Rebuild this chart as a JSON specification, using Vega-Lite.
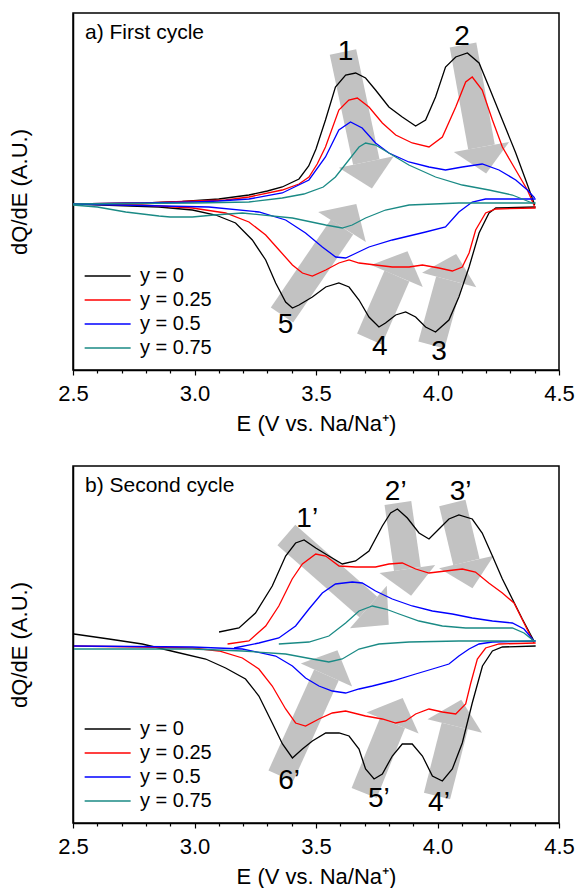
{
"$schema": "https://vega.github.io/schema/vega-lite/v6.json",
"padding": {"left": 7, "top": 12, "right": 0, "bottom": 0},
"spacing": 30,
"config": {
  "font": "Liberation Sans",
  "view": {"stroke": "#000000", "strokeWidth": 1.5},
  "axis": {"grid": false, "domainColor": "#000000", "tickColor": "#000000", "labelColor": "#000000", "titleColor": "#000000", "labelFont": "Liberation Sans", "titleFont": "Liberation Sans", "titleFontWeight": "normal"},
  "title": {"font": "Liberation Sans", "fontWeight": "normal", "color": "#000000"}
},
"resolve": {"scale": {"y": "independent", "color": "independent"}, "legend": {"color": "independent"}},
"datasets": {
"a_arrows": [
 {"E1": 3.611, "v1": 152, "E": 3.707, "v": 42, "heading": 168},
 {"E1": 4.105, "v1": 159, "E": 4.181, "v": 57, "heading": 170},
 {"E1": 3.36, "v1": -111, "E": 3.607, "v": -23, "heading": 32},
 {"E1": 3.72, "v1": -135, "E": 3.833, "v": -72, "heading": 23},
 {"E1": 3.975, "v1": -141, "E": 4.048, "v": -76, "heading": 15}
],
"a_labels": [
 {"t": "1", "E": 3.622, "v": 152},
 {"t": "2", "E": 4.101, "v": 167},
 {"t": "5", "E": 3.375, "v": -121},
 {"t": "4", "E": 3.762, "v": -143},
 {"t": "3", "E": 4.006, "v": -148}
],
"b_arrows": [
 {"E1": 3.378, "v1": 109, "E": 3.7155, "v": 37, "heading": 131},
 {"E1": 3.837, "v1": 141, "E": 3.876, "v": 75, "heading": 172},
 {"E1": 4.061, "v1": 141, "E": 4.119, "v": 82, "heading": 167},
 {"E1": 3.355, "v1": -132, "E": 3.543, "v": -31, "heading": 24},
 {"E1": 3.698, "v1": -149, "E": 3.815, "v": -79, "heading": 22},
 {"E1": 3.998, "v1": -152, "E": 4.071, "v": -82, "heading": 14}
],
"b_labels": [
 {"t": "1’", "E": 3.464, "v": 125},
 {"t": "2’", "E": 3.828, "v": 152},
 {"t": "3’", "E": 4.095, "v": 152},
 {"t": "6’", "E": 3.389, "v": -137},
 {"t": "5’", "E": 3.759, "v": -155},
 {"t": "4’", "E": 4.006, "v": -159}
],
"a_curves": [
 {"s":"y = 0","b":"c","E":2.5,"v":0},{"s":"y = 0","b":"c","E":2.8,"v":1},{"s":"y = 0","b":"c","E":2.95,"v":2.5},{"s":"y = 0","b":"c","E":3.1,"v":5},{"s":"y = 0","b":"c","E":3.224,"v":9},{"s":"y = 0","b":"c","E":3.3,"v":13},{"s":"y = 0","b":"c","E":3.361,"v":17},{"s":"y = 0","b":"c","E":3.43,"v":25},{"s":"y = 0","b":"c","E":3.47,"v":38},{"s":"y = 0","b":"c","E":3.5,"v":55},{"s":"y = 0","b":"c","E":3.539,"v":84},{"s":"y = 0","b":"c","E":3.58,"v":117},{"s":"y = 0","b":"c","E":3.622,"v":129},{"s":"y = 0","b":"c","E":3.663,"v":131},{"s":"y = 0","b":"c","E":3.704,"v":126},{"s":"y = 0","b":"c","E":3.745,"v":114},{"s":"y = 0","b":"c","E":3.8,"v":97},{"s":"y = 0","b":"c","E":3.855,"v":87},{"s":"y = 0","b":"c","E":3.91,"v":78},{"s":"y = 0","b":"c","E":3.951,"v":84},{"s":"y = 0","b":"c","E":3.992,"v":107},{"s":"y = 0","b":"c","E":4.033,"v":137},{"s":"y = 0","b":"c","E":4.075,"v":147},{"s":"y = 0","b":"c","E":4.123,"v":151},{"s":"y = 0","b":"c","E":4.171,"v":141},{"s":"y = 0","b":"c","E":4.212,"v":117},{"s":"y = 0","b":"c","E":4.267,"v":84},{"s":"y = 0","b":"c","E":4.322,"v":51},{"s":"y = 0","b":"c","E":4.363,"v":24},{"s":"y = 0","b":"c","E":4.4,"v":-1},
 {"s":"y = 0","b":"d","E":4.404,"v":-3},{"s":"y = 0","b":"d","E":4.24,"v":-4},{"s":"y = 0","b":"d","E":4.212,"v":-9},{"s":"y = 0","b":"d","E":4.171,"v":-29},{"s":"y = 0","b":"d","E":4.13,"v":-63},{"s":"y = 0","b":"d","E":4.088,"v":-93},{"s":"y = 0","b":"d","E":4.047,"v":-116},{"s":"y = 0","b":"d","E":3.992,"v":-128},{"s":"y = 0","b":"d","E":3.951,"v":-123},{"s":"y = 0","b":"d","E":3.91,"v":-113},{"s":"y = 0","b":"d","E":3.869,"v":-108},{"s":"y = 0","b":"d","E":3.828,"v":-111},{"s":"y = 0","b":"d","E":3.786,"v":-119},{"s":"y = 0","b":"d","E":3.759,"v":-123},{"s":"y = 0","b":"d","E":3.718,"v":-113},{"s":"y = 0","b":"d","E":3.677,"v":-96},{"s":"y = 0","b":"d","E":3.636,"v":-83},{"s":"y = 0","b":"d","E":3.594,"v":-79},{"s":"y = 0","b":"d","E":3.54,"v":-83},{"s":"y = 0","b":"d","E":3.485,"v":-93},{"s":"y = 0","b":"d","E":3.43,"v":-101},{"s":"y = 0","b":"d","E":3.403,"v":-104},{"s":"y = 0","b":"d","E":3.375,"v":-98},{"s":"y = 0","b":"d","E":3.334,"v":-79},{"s":"y = 0","b":"d","E":3.293,"v":-56},{"s":"y = 0","b":"d","E":3.238,"v":-36},{"s":"y = 0","b":"d","E":3.169,"v":-19},{"s":"y = 0","b":"d","E":3.087,"v":-11},{"s":"y = 0","b":"d","E":2.991,"v":-6},{"s":"y = 0","b":"d","E":2.854,"v":-3},{"s":"y = 0","b":"d","E":2.5,"v":0},
 {"s":"y = 0.25","b":"c","E":2.5,"v":0},{"s":"y = 0.25","b":"c","E":2.8,"v":1},{"s":"y = 0.25","b":"c","E":3.0,"v":3},{"s":"y = 0.25","b":"c","E":3.128,"v":4},{"s":"y = 0.25","b":"c","E":3.224,"v":7},{"s":"y = 0.25","b":"c","E":3.361,"v":14},{"s":"y = 0.25","b":"c","E":3.43,"v":20},{"s":"y = 0.25","b":"c","E":3.471,"v":27},{"s":"y = 0.25","b":"c","E":3.505,"v":40},{"s":"y = 0.25","b":"c","E":3.539,"v":57},{"s":"y = 0.25","b":"c","E":3.594,"v":94},{"s":"y = 0.25","b":"c","E":3.635,"v":104},{"s":"y = 0.25","b":"c","E":3.67,"v":106},{"s":"y = 0.25","b":"c","E":3.718,"v":97},{"s":"y = 0.25","b":"c","E":3.773,"v":81},{"s":"y = 0.25","b":"c","E":3.828,"v":69},{"s":"y = 0.25","b":"c","E":3.896,"v":61},{"s":"y = 0.25","b":"c","E":3.965,"v":57},{"s":"y = 0.25","b":"c","E":4.02,"v":67},{"s":"y = 0.25","b":"c","E":4.075,"v":97},{"s":"y = 0.25","b":"c","E":4.116,"v":122},{"s":"y = 0.25","b":"c","E":4.143,"v":127},{"s":"y = 0.25","b":"c","E":4.184,"v":114},{"s":"y = 0.25","b":"c","E":4.226,"v":84},{"s":"y = 0.25","b":"c","E":4.267,"v":57},{"s":"y = 0.25","b":"c","E":4.322,"v":34},{"s":"y = 0.25","b":"c","E":4.37,"v":14},{"s":"y = 0.25","b":"c","E":4.4,"v":-3},
 {"s":"y = 0.25","b":"d","E":4.404,"v":-4},{"s":"y = 0.25","b":"d","E":4.24,"v":-5},{"s":"y = 0.25","b":"d","E":4.198,"v":-9},{"s":"y = 0.25","b":"d","E":4.157,"v":-26},{"s":"y = 0.25","b":"d","E":4.13,"v":-49},{"s":"y = 0.25","b":"d","E":4.102,"v":-63},{"s":"y = 0.25","b":"d","E":4.061,"v":-67},{"s":"y = 0.25","b":"d","E":4.006,"v":-64},{"s":"y = 0.25","b":"d","E":3.938,"v":-61},{"s":"y = 0.25","b":"d","E":3.883,"v":-63},{"s":"y = 0.25","b":"d","E":3.814,"v":-63},{"s":"y = 0.25","b":"d","E":3.745,"v":-61},{"s":"y = 0.25","b":"d","E":3.677,"v":-59},{"s":"y = 0.25","b":"d","E":3.636,"v":-56},{"s":"y = 0.25","b":"d","E":3.594,"v":-59},{"s":"y = 0.25","b":"d","E":3.54,"v":-66},{"s":"y = 0.25","b":"d","E":3.485,"v":-72},{"s":"y = 0.25","b":"d","E":3.444,"v":-69},{"s":"y = 0.25","b":"d","E":3.403,"v":-61},{"s":"y = 0.25","b":"d","E":3.348,"v":-46},{"s":"y = 0.25","b":"d","E":3.293,"v":-31},{"s":"y = 0.25","b":"d","E":3.224,"v":-18},{"s":"y = 0.25","b":"d","E":3.128,"v":-9},{"s":"y = 0.25","b":"d","E":2.991,"v":-4},{"s":"y = 0.25","b":"d","E":2.785,"v":-1},{"s":"y = 0.25","b":"d","E":2.5,"v":0},
 {"s":"y = 0.5","b":"c","E":2.5,"v":0},{"s":"y = 0.5","b":"c","E":2.8,"v":1},{"s":"y = 0.5","b":"c","E":3.0,"v":2},{"s":"y = 0.5","b":"c","E":3.1,"v":3},{"s":"y = 0.5","b":"c","E":3.224,"v":5},{"s":"y = 0.5","b":"c","E":3.361,"v":11},{"s":"y = 0.5","b":"c","E":3.471,"v":24},{"s":"y = 0.5","b":"c","E":3.539,"v":47},{"s":"y = 0.5","b":"c","E":3.594,"v":74},{"s":"y = 0.5","b":"c","E":3.642,"v":82},{"s":"y = 0.5","b":"c","E":3.69,"v":76},{"s":"y = 0.5","b":"c","E":3.745,"v":61},{"s":"y = 0.5","b":"c","E":3.8,"v":51},{"s":"y = 0.5","b":"c","E":3.882,"v":42},{"s":"y = 0.5","b":"c","E":3.965,"v":37},{"s":"y = 0.5","b":"c","E":4.033,"v":34},{"s":"y = 0.5","b":"c","E":4.102,"v":37},{"s":"y = 0.5","b":"c","E":4.184,"v":40},{"s":"y = 0.5","b":"c","E":4.253,"v":34},{"s":"y = 0.5","b":"c","E":4.322,"v":24},{"s":"y = 0.5","b":"c","E":4.37,"v":14},{"s":"y = 0.5","b":"c","E":4.4,"v":6},
 {"s":"y = 0.5","b":"d","E":4.404,"v":5},{"s":"y = 0.5","b":"d","E":4.198,"v":5},{"s":"y = 0.5","b":"d","E":4.143,"v":2},{"s":"y = 0.5","b":"d","E":4.088,"v":-8},{"s":"y = 0.5","b":"d","E":4.033,"v":-23},{"s":"y = 0.5","b":"d","E":3.951,"v":-28},{"s":"y = 0.5","b":"d","E":3.814,"v":-36},{"s":"y = 0.5","b":"d","E":3.718,"v":-43},{"s":"y = 0.5","b":"d","E":3.649,"v":-51},{"s":"y = 0.5","b":"d","E":3.622,"v":-54},{"s":"y = 0.5","b":"d","E":3.581,"v":-53},{"s":"y = 0.5","b":"d","E":3.526,"v":-43},{"s":"y = 0.5","b":"d","E":3.457,"v":-29},{"s":"y = 0.5","b":"d","E":3.375,"v":-16},{"s":"y = 0.5","b":"d","E":3.265,"v":-8},{"s":"y = 0.5","b":"d","E":3.059,"v":-3},{"s":"y = 0.5","b":"d","E":2.5,"v":0},
 {"s":"y = 0.75","b":"c","E":2.5,"v":0},{"s":"y = 0.75","b":"c","E":3.0,"v":1},{"s":"y = 0.75","b":"c","E":3.224,"v":2},{"s":"y = 0.75","b":"c","E":3.361,"v":6},{"s":"y = 0.75","b":"c","E":3.45,"v":10},{"s":"y = 0.75","b":"c","E":3.53,"v":17},{"s":"y = 0.75","b":"c","E":3.58,"v":27},{"s":"y = 0.75","b":"c","E":3.635,"v":44},{"s":"y = 0.75","b":"c","E":3.677,"v":57},{"s":"y = 0.75","b":"c","E":3.704,"v":61},{"s":"y = 0.75","b":"c","E":3.745,"v":59},{"s":"y = 0.75","b":"c","E":3.8,"v":51},{"s":"y = 0.75","b":"c","E":3.882,"v":39},{"s":"y = 0.75","b":"c","E":3.992,"v":27},{"s":"y = 0.75","b":"c","E":4.102,"v":19},{"s":"y = 0.75","b":"c","E":4.212,"v":14},{"s":"y = 0.75","b":"c","E":4.308,"v":9},{"s":"y = 0.75","b":"c","E":4.39,"v":1},
 {"s":"y = 0.75","b":"d","E":4.404,"v":1},{"s":"y = 0.75","b":"d","E":4.088,"v":1},{"s":"y = 0.75","b":"d","E":3.883,"v":-1},{"s":"y = 0.75","b":"d","E":3.786,"v":-6},{"s":"y = 0.75","b":"d","E":3.704,"v":-14},{"s":"y = 0.75","b":"d","E":3.649,"v":-21},{"s":"y = 0.75","b":"d","E":3.608,"v":-24},{"s":"y = 0.75","b":"d","E":3.54,"v":-21},{"s":"y = 0.75","b":"d","E":3.403,"v":-14},{"s":"y = 0.75","b":"d","E":3.197,"v":-9},{"s":"y = 0.75","b":"d","E":3.08,"v":-11},{"s":"y = 0.75","b":"d","E":2.991,"v":-13},{"s":"y = 0.75","b":"d","E":2.9,"v":-13},{"s":"y = 0.75","b":"d","E":2.854,"v":-12},{"s":"y = 0.75","b":"d","E":2.717,"v":-8},{"s":"y = 0.75","b":"d","E":2.6,"v":-3},{"s":"y = 0.75","b":"d","E":2.5,"v":-1}
],
"b_curves": [
 {"s":"y = 0","b":"c","E":3.101,"v":12},{"s":"y = 0","b":"c","E":3.183,"v":16},{"s":"y = 0","b":"c","E":3.251,"v":31},{"s":"y = 0","b":"c","E":3.32,"v":58},{"s":"y = 0","b":"c","E":3.375,"v":88},{"s":"y = 0","b":"c","E":3.416,"v":101},{"s":"y = 0","b":"c","E":3.451,"v":104},{"s":"y = 0","b":"c","E":3.499,"v":96},{"s":"y = 0","b":"c","E":3.553,"v":88},{"s":"y = 0","b":"c","E":3.608,"v":80},{"s":"y = 0","b":"c","E":3.663,"v":83},{"s":"y = 0","b":"c","E":3.718,"v":93},{"s":"y = 0","b":"c","E":3.773,"v":118},{"s":"y = 0","b":"c","E":3.807,"v":131},{"s":"y = 0","b":"c","E":3.835,"v":135},{"s":"y = 0","b":"c","E":3.876,"v":126},{"s":"y = 0","b":"c","E":3.924,"v":111},{"s":"y = 0","b":"c","E":3.965,"v":105},{"s":"y = 0","b":"c","E":4.006,"v":115},{"s":"y = 0","b":"c","E":4.047,"v":125},{"s":"y = 0","b":"c","E":4.088,"v":129},{"s":"y = 0","b":"c","E":4.143,"v":125},{"s":"y = 0","b":"c","E":4.184,"v":111},{"s":"y = 0","b":"c","E":4.226,"v":88},{"s":"y = 0","b":"c","E":4.267,"v":65},{"s":"y = 0","b":"c","E":4.308,"v":45},{"s":"y = 0","b":"c","E":4.349,"v":25},{"s":"y = 0","b":"c","E":4.397,"v":3},
 {"s":"y = 0","b":"d","E":4.404,"v":-2},{"s":"y = 0","b":"d","E":4.267,"v":-3},{"s":"y = 0","b":"d","E":4.226,"v":-7},{"s":"y = 0","b":"d","E":4.185,"v":-22},{"s":"y = 0","b":"d","E":4.143,"v":-59},{"s":"y = 0","b":"d","E":4.102,"v":-99},{"s":"y = 0","b":"d","E":4.061,"v":-125},{"s":"y = 0","b":"d","E":4.02,"v":-137},{"s":"y = 0","b":"d","E":3.979,"v":-132},{"s":"y = 0","b":"d","E":3.938,"v":-112},{"s":"y = 0","b":"d","E":3.896,"v":-100},{"s":"y = 0","b":"d","E":3.855,"v":-100},{"s":"y = 0","b":"d","E":3.814,"v":-112},{"s":"y = 0","b":"d","E":3.773,"v":-130},{"s":"y = 0","b":"d","E":3.739,"v":-135},{"s":"y = 0","b":"d","E":3.704,"v":-125},{"s":"y = 0","b":"d","E":3.677,"v":-105},{"s":"y = 0","b":"d","E":3.636,"v":-92},{"s":"y = 0","b":"d","E":3.595,"v":-89},{"s":"y = 0","b":"d","E":3.54,"v":-89},{"s":"y = 0","b":"d","E":3.485,"v":-97},{"s":"y = 0","b":"d","E":3.444,"v":-105},{"s":"y = 0","b":"d","E":3.403,"v":-114},{"s":"y = 0","b":"d","E":3.362,"v":-100},{"s":"y = 0","b":"d","E":3.32,"v":-79},{"s":"y = 0","b":"d","E":3.265,"v":-52},{"s":"y = 0","b":"d","E":3.21,"v":-35},{"s":"y = 0","b":"d","E":3.128,"v":-24},{"s":"y = 0","b":"d","E":3.046,"v":-15},{"s":"y = 0","b":"d","E":2.922,"v":-8},{"s":"y = 0","b":"d","E":2.785,"v":0},{"s":"y = 0","b":"d","E":2.648,"v":5},{"s":"y = 0","b":"d","E":2.504,"v":10},
 {"s":"y = 0.25","b":"c","E":3.136,"v":0},{"s":"y = 0.25","b":"c","E":3.224,"v":3},{"s":"y = 0.25","b":"c","E":3.293,"v":18},{"s":"y = 0.25","b":"c","E":3.347,"v":38},{"s":"y = 0.25","b":"c","E":3.402,"v":65},{"s":"y = 0.25","b":"c","E":3.444,"v":80},{"s":"y = 0.25","b":"c","E":3.499,"v":90},{"s":"y = 0.25","b":"c","E":3.54,"v":88},{"s":"y = 0.25","b":"c","E":3.595,"v":78},{"s":"y = 0.25","b":"c","E":3.663,"v":77},{"s":"y = 0.25","b":"c","E":3.745,"v":77},{"s":"y = 0.25","b":"c","E":3.8,"v":80},{"s":"y = 0.25","b":"c","E":3.855,"v":81},{"s":"y = 0.25","b":"c","E":3.91,"v":75},{"s":"y = 0.25","b":"c","E":3.965,"v":71},{"s":"y = 0.25","b":"c","E":4.033,"v":73},{"s":"y = 0.25","b":"c","E":4.102,"v":75},{"s":"y = 0.25","b":"c","E":4.156,"v":72},{"s":"y = 0.25","b":"c","E":4.211,"v":61},{"s":"y = 0.25","b":"c","E":4.267,"v":51},{"s":"y = 0.25","b":"c","E":4.315,"v":41},{"s":"y = 0.25","b":"c","E":4.356,"v":21},{"s":"y = 0.25","b":"c","E":4.397,"v":1},
 {"s":"y = 0.25","b":"d","E":4.404,"v":1},{"s":"y = 0.25","b":"d","E":4.253,"v":0},{"s":"y = 0.25","b":"d","E":4.198,"v":-4},{"s":"y = 0.25","b":"d","E":4.164,"v":-15},{"s":"y = 0.25","b":"d","E":4.137,"v":-39},{"s":"y = 0.25","b":"d","E":4.116,"v":-60},{"s":"y = 0.25","b":"d","E":4.075,"v":-70},{"s":"y = 0.25","b":"d","E":4.02,"v":-68},{"s":"y = 0.25","b":"d","E":3.965,"v":-65},{"s":"y = 0.25","b":"d","E":3.91,"v":-70},{"s":"y = 0.25","b":"d","E":3.869,"v":-77},{"s":"y = 0.25","b":"d","E":3.828,"v":-79},{"s":"y = 0.25","b":"d","E":3.773,"v":-75},{"s":"y = 0.25","b":"d","E":3.704,"v":-72},{"s":"y = 0.25","b":"d","E":3.622,"v":-67},{"s":"y = 0.25","b":"d","E":3.567,"v":-69},{"s":"y = 0.25","b":"d","E":3.512,"v":-75},{"s":"y = 0.25","b":"d","E":3.457,"v":-82},{"s":"y = 0.25","b":"d","E":3.416,"v":-79},{"s":"y = 0.25","b":"d","E":3.375,"v":-65},{"s":"y = 0.25","b":"d","E":3.32,"v":-42},{"s":"y = 0.25","b":"d","E":3.265,"v":-25},{"s":"y = 0.25","b":"d","E":3.197,"v":-14},{"s":"y = 0.25","b":"d","E":3.101,"v":-7},{"s":"y = 0.25","b":"d","E":2.991,"v":-4},{"s":"y = 0.25","b":"d","E":2.785,"v":-3},{"s":"y = 0.25","b":"d","E":2.504,"v":-2},
 {"s":"y = 0.5","b":"c","E":3.163,"v":-4},{"s":"y = 0.5","b":"c","E":3.265,"v":1},{"s":"y = 0.5","b":"c","E":3.347,"v":6},{"s":"y = 0.5","b":"c","E":3.416,"v":18},{"s":"y = 0.5","b":"c","E":3.471,"v":35},{"s":"y = 0.5","b":"c","E":3.526,"v":51},{"s":"y = 0.5","b":"c","E":3.58,"v":60},{"s":"y = 0.5","b":"c","E":3.649,"v":62},{"s":"y = 0.5","b":"c","E":3.69,"v":61},{"s":"y = 0.5","b":"c","E":3.745,"v":53},{"s":"y = 0.5","b":"c","E":3.814,"v":45},{"s":"y = 0.5","b":"c","E":3.896,"v":38},{"s":"y = 0.5","b":"c","E":3.979,"v":33},{"s":"y = 0.5","b":"c","E":4.061,"v":30},{"s":"y = 0.5","b":"c","E":4.143,"v":26},{"s":"y = 0.5","b":"c","E":4.226,"v":23},{"s":"y = 0.5","b":"c","E":4.308,"v":21},{"s":"y = 0.5","b":"c","E":4.356,"v":15},{"s":"y = 0.5","b":"c","E":4.397,"v":3},
 {"s":"y = 0.5","b":"d","E":4.404,"v":3},{"s":"y = 0.5","b":"d","E":4.226,"v":2},{"s":"y = 0.5","b":"d","E":4.171,"v":0},{"s":"y = 0.5","b":"d","E":4.13,"v":-5},{"s":"y = 0.5","b":"d","E":4.088,"v":-12},{"s":"y = 0.5","b":"d","E":4.047,"v":-20},{"s":"y = 0.5","b":"d","E":3.993,"v":-24},{"s":"y = 0.5","b":"d","E":3.91,"v":-30},{"s":"y = 0.5","b":"d","E":3.814,"v":-37},{"s":"y = 0.5","b":"d","E":3.732,"v":-42},{"s":"y = 0.5","b":"d","E":3.677,"v":-45},{"s":"y = 0.5","b":"d","E":3.622,"v":-49},{"s":"y = 0.5","b":"d","E":3.567,"v":-47},{"s":"y = 0.5","b":"d","E":3.512,"v":-42},{"s":"y = 0.5","b":"d","E":3.457,"v":-34},{"s":"y = 0.5","b":"d","E":3.403,"v":-22},{"s":"y = 0.5","b":"d","E":3.334,"v":-12},{"s":"y = 0.5","b":"d","E":3.197,"v":-5},{"s":"y = 0.5","b":"d","E":2.991,"v":-3},{"s":"y = 0.5","b":"d","E":2.504,"v":-2},
 {"s":"y = 0.75","b":"c","E":3.347,"v":0},{"s":"y = 0.75","b":"c","E":3.471,"v":2},{"s":"y = 0.75","b":"c","E":3.553,"v":8},{"s":"y = 0.75","b":"c","E":3.622,"v":21},{"s":"y = 0.75","b":"c","E":3.677,"v":33},{"s":"y = 0.75","b":"c","E":3.732,"v":38},{"s":"y = 0.75","b":"c","E":3.787,"v":35},{"s":"y = 0.75","b":"c","E":3.842,"v":30},{"s":"y = 0.75","b":"c","E":3.924,"v":23},{"s":"y = 0.75","b":"c","E":4.02,"v":18},{"s":"y = 0.75","b":"c","E":4.116,"v":16},{"s":"y = 0.75","b":"c","E":4.226,"v":16},{"s":"y = 0.75","b":"c","E":4.308,"v":16},{"s":"y = 0.75","b":"c","E":4.356,"v":11},{"s":"y = 0.75","b":"c","E":4.397,"v":3},
 {"s":"y = 0.75","b":"d","E":4.404,"v":3},{"s":"y = 0.75","b":"d","E":4.088,"v":3},{"s":"y = 0.75","b":"d","E":3.883,"v":2},{"s":"y = 0.75","b":"d","E":3.759,"v":0},{"s":"y = 0.75","b":"d","E":3.677,"v":-5},{"s":"y = 0.75","b":"d","E":3.608,"v":-15},{"s":"y = 0.75","b":"d","E":3.553,"v":-18},{"s":"y = 0.75","b":"d","E":3.485,"v":-15},{"s":"y = 0.75","b":"d","E":3.375,"v":-10},{"s":"y = 0.75","b":"d","E":3.197,"v":-7},{"s":"y = 0.75","b":"d","E":2.991,"v":-5},{"s":"y = 0.75","b":"d","E":2.785,"v":-5},{"s":"y = 0.75","b":"d","E":2.504,"v":-5}
]
},
"vconcat": [
{
 "width": 486, "height": 357,
 "title": {"text": "a) First cycle", "anchor": "start", "orient": "top", "frame": "group", "offset": -30, "dx": 12, "fontSize": 21},
 "encoding": {
  "x": {"field": "E", "type": "quantitative", "scale": {"domain": [2.5, 4.5], "nice": false, "zero": false},
        "axis": {"title": "E (V vs. Na/Na⁺)", "values": [2.5,2.6,2.7,2.8,2.9,3.0,3.1,3.2,3.3,3.4,3.5,3.6,3.7,3.8,3.9,4.0,4.1,4.2,4.3,4.4,4.5],
                 "labelExpr": "round(datum.value*10) % 5 == 0 ? format(datum.value, '.1f') : ''",
                 "tickSize": {"condition": {"test": "round(datum.value*10) % 5 == 0", "value": 5}, "value": 3},
                 "labelFlush": false, "labelOverlap": false, "labelFontSize": 22, "titleFontSize": 22, "labelPadding": 8, "titlePadding": 9, "domainWidth": 1.5, "tickWidth": 1.2}},
  "y": {"field": "v", "type": "quantitative", "scale": {"domain": [-166, 191], "nice": false, "zero": false},
        "axis": {"title": "dQ/dE (A.U.)", "labels": false, "ticks": false, "titleFontSize": 22, "titlePadding": 42, "domainWidth": 1.5}}
 },
 "layer": [
  {"data": {"name": "a_arrows"}, "mark": {"type": "rule", "color": "#c2c2c2", "strokeWidth": 27, "strokeCap": "butt"},
   "encoding": {"x2": {"field": "E1"}, "y2": {"field": "v1"}}},
  {"data": {"name": "a_arrows"}, "mark": {"type": "point", "shape": "M -1.04 0 L 1.04 0 L 0 -1 Z", "filled": true, "size": 2916, "color": "#c2c2c2", "opacity": 1, "strokeWidth": 0},
   "encoding": {"angle": {"field": "heading", "type": "quantitative", "scale": null}}},
  {"data": {"name": "a_curves"}, "mark": {"type": "line", "strokeWidth": 1.3},
   "encoding": {"color": {"field": "s", "type": "nominal",
      "scale": {"domain": ["y = 0", "y = 0.25", "y = 0.5", "y = 0.75"], "range": ["#000000", "#ff0000", "#0000ff", "#1a8a85"]},
      "legend": {"title": null, "orient": "bottom-left", "offset": 12, "labelFontSize": 20, "labelFont": "Liberation Sans", "labelColor": "#000000", "symbolType": "M -1.35 0 H 4.65", "symbolSize": 235, "symbolStrokeWidth": 1.3, "labelOffset": 35, "rowPadding": 4, "padding": 0}},
     "detail": {"field": "b"}}},
  {"data": {"name": "a_labels"}, "mark": {"type": "text", "fontSize": 28, "font": "Liberation Sans", "color": "#000000"},
   "encoding": {"text": {"field": "t"}}}
 ]
},
{
 "width": 486, "height": 357,
 "title": {"text": "b) Second cycle", "anchor": "start", "orient": "top", "frame": "group", "offset": -30, "dx": 12, "fontSize": 21},
 "encoding": {
  "x": {"field": "E", "type": "quantitative", "scale": {"domain": [2.5, 4.5], "nice": false, "zero": false},
        "axis": {"title": "E (V vs. Na/Na⁺)", "values": [2.5,2.6,2.7,2.8,2.9,3.0,3.1,3.2,3.3,3.4,3.5,3.6,3.7,3.8,3.9,4.0,4.1,4.2,4.3,4.4,4.5],
                 "labelExpr": "round(datum.value*10) % 5 == 0 ? format(datum.value, '.1f') : ''",
                 "tickSize": {"condition": {"test": "round(datum.value*10) % 5 == 0", "value": 5}, "value": 3},
                 "labelFlush": false, "labelOverlap": false, "labelFontSize": 22, "titleFontSize": 22, "labelPadding": 8, "titlePadding": 9, "domainWidth": 1.5, "tickWidth": 1.2}},
  "y": {"field": "v", "type": "quantitative", "scale": {"domain": [-179, 178], "nice": false, "zero": false},
        "axis": {"title": "dQ/dE (A.U.)", "labels": false, "ticks": false, "titleFontSize": 22, "titlePadding": 42, "domainWidth": 1.5}}
 },
 "layer": [
  {"data": {"name": "b_arrows"}, "mark": {"type": "rule", "color": "#c2c2c2", "strokeWidth": 27, "strokeCap": "butt"},
   "encoding": {"x2": {"field": "E1"}, "y2": {"field": "v1"}}},
  {"data": {"name": "b_arrows"}, "mark": {"type": "point", "shape": "M -1.04 0 L 1.04 0 L 0 -1 Z", "filled": true, "size": 2916, "color": "#c2c2c2", "opacity": 1, "strokeWidth": 0},
   "encoding": {"angle": {"field": "heading", "type": "quantitative", "scale": null}}},
  {"data": {"name": "b_curves"}, "mark": {"type": "line", "strokeWidth": 1.3},
   "encoding": {"color": {"field": "s", "type": "nominal",
      "scale": {"domain": ["y = 0", "y = 0.25", "y = 0.5", "y = 0.75"], "range": ["#000000", "#ff0000", "#0000ff", "#1a8a85"]},
      "legend": {"title": null, "orient": "bottom-left", "offset": 12, "labelFontSize": 20, "labelFont": "Liberation Sans", "labelColor": "#000000", "symbolType": "M -1.35 0 H 4.65", "symbolSize": 235, "symbolStrokeWidth": 1.3, "labelOffset": 35, "rowPadding": 4, "padding": 0}},
     "detail": {"field": "b"}}},
  {"data": {"name": "b_labels"}, "mark": {"type": "text", "fontSize": 28, "font": "Liberation Sans", "color": "#000000"},
   "encoding": {"text": {"field": "t"}}}
 ]
}
]
}
